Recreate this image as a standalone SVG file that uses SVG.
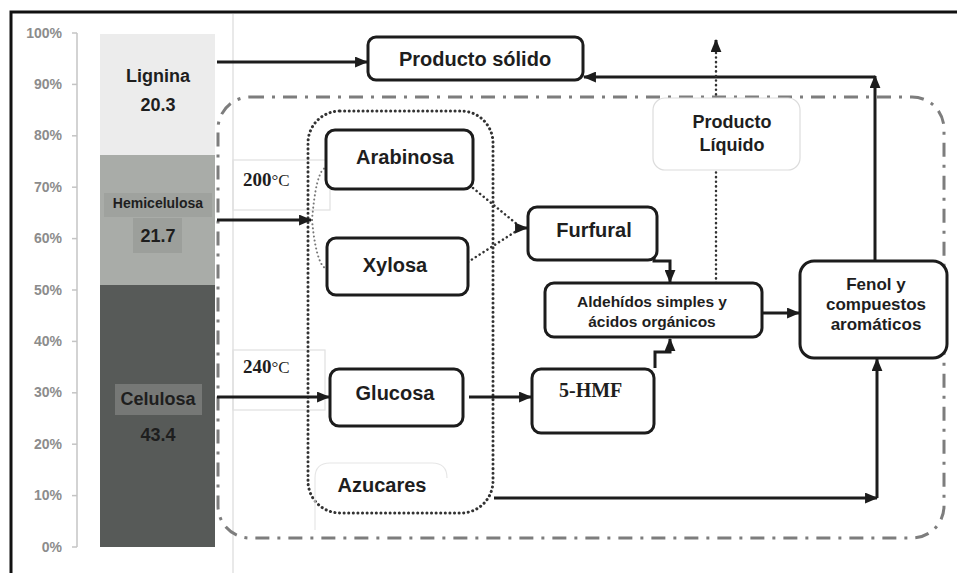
<svg xmlns="http://www.w3.org/2000/svg" width="957" height="573" viewBox="0 0 957 573">
<style>
  text { font-family: "Liberation Sans", Arial, sans-serif; font-weight: bold; fill: #1e1e1e; }
  .ax { font-size: 14px; fill: #8c8c8c; text-anchor: end; }
  .box { fill: #ffffff; stroke: #1c1c1c; stroke-width: 3; }
  .lbl { font-size: 20px; text-anchor: middle; }
  .lbl18 { font-size: 18px; text-anchor: middle; }
  .bar { font-size: 18px; text-anchor: middle; }
  .sm { font-size: 15.5px; text-anchor: middle; }
  .fen { font-size: 17px; text-anchor: middle; }
  .serif { font-family: "Liberation Serif", "Times New Roman", serif; }
  .con { fill: none; stroke: #1c1c1c; stroke-width: 3; }
  .dot { fill: none; stroke: #333; stroke-width: 2.5; stroke-dasharray: 0.1 4.5; stroke-linecap: round; }
  .faint { fill: #ffffff; stroke: #dcdcdc; stroke-width: 1.2; }
</style>
<defs>
  <marker id="ah" viewBox="0 0 12 10" refX="11" refY="5" markerWidth="13" markerHeight="11" orient="auto" markerUnits="userSpaceOnUse">
    <path d="M0,0 L12,5 L0,10 z" fill="#1c1c1c"/>
  </marker>
</defs>
<rect x="0" y="0" width="957" height="573" fill="#ffffff"/>
<!-- frame -->
<path d="M11,573 V12 H957" fill="none" stroke="#111" stroke-width="3"/>
<!-- plot area line -->
<line x1="233" y1="14" x2="233" y2="573" stroke="#e2e2e2" stroke-width="1.5"/>
<!-- y axis -->
<g id="axis">
  <line x1="77" y1="33" x2="77" y2="547" stroke="#c4c4c4" stroke-width="1.5"/>
  <g stroke="#c4c4c4" stroke-width="1.5">
    <line x1="72" y1="33" x2="77" y2="33"/><line x1="72" y1="84.4" x2="77" y2="84.4"/>
    <line x1="72" y1="135.8" x2="77" y2="135.8"/><line x1="72" y1="187.2" x2="77" y2="187.2"/>
    <line x1="72" y1="238.6" x2="77" y2="238.6"/><line x1="72" y1="290" x2="77" y2="290"/>
    <line x1="72" y1="341.4" x2="77" y2="341.4"/><line x1="72" y1="392.8" x2="77" y2="392.8"/>
    <line x1="72" y1="444.2" x2="77" y2="444.2"/><line x1="72" y1="495.6" x2="77" y2="495.6"/>
    <line x1="72" y1="547" x2="77" y2="547"/>
  </g>
  <text class="ax" x="62" y="38">100%</text>
  <text class="ax" x="62" y="89">90%</text>
  <text class="ax" x="62" y="140">80%</text>
  <text class="ax" x="62" y="192">70%</text>
  <text class="ax" x="62" y="243">60%</text>
  <text class="ax" x="62" y="295">50%</text>
  <text class="ax" x="62" y="346">40%</text>
  <text class="ax" x="62" y="397">30%</text>
  <text class="ax" x="62" y="449">20%</text>
  <text class="ax" x="62" y="500">10%</text>
  <text class="ax" x="62" y="552">0%</text>
</g>
<!-- bar -->
<g id="lignina">
  <rect x="100" y="34" width="115" height="121" fill="#ececec"/>
  <text class="bar" x="158" y="82">Lignina</text>
  <text class="bar" x="158" y="111">20.3</text>
</g>
<g id="hemicelulosa">
  <rect x="100" y="155" width="115" height="130" fill="#a9aca8"/>
  <rect x="104" y="193" width="108" height="24" fill="#9fa29e"/>
  <rect x="133" y="218" width="49" height="35" fill="#9c9f9b"/>
  <text x="158" y="208" font-size="14" text-anchor="middle">Hemicelulosa</text>
  <text class="bar" x="158" y="242">21.7</text>
</g>
<g id="celulosa">
  <rect x="100" y="285" width="115" height="262" fill="#575a58"/>
  <rect x="115" y="384" width="87" height="31" fill="#767876"/>
  <text class="bar" x="158" y="405">Celulosa</text>
  <text class="bar" x="158" y="441">43.4</text>
</g>
<!-- temperature label boxes -->
<g id="t200">
  <rect x="233" y="160" width="97" height="50" fill="none" stroke="#e0e0e0" stroke-width="1.2"/>
  <text class="serif" x="243" y="186" font-size="19">200<tspan font-weight="normal" font-size="17">°C</tspan></text>
</g>
<g id="t240">
  <rect x="233" y="350" width="92" height="60" fill="none" stroke="#e0e0e0" stroke-width="1.2"/>
  <text class="serif" x="243" y="373" font-size="19">240<tspan font-weight="normal" font-size="17">°C</tspan></text>
</g>
<!-- reactor dash-dot boundary -->
<rect x="218" y="97" width="726" height="441" rx="32" ry="32" fill="none" stroke="#7d7d7d" stroke-width="3" stroke-dasharray="14 8 3 8"/>
<!-- sugars dotted group -->
<rect x="308" y="111" width="185" height="402" rx="32" ry="32" fill="none" stroke="#333" stroke-width="3" stroke-dasharray="0.1 4.5" stroke-linecap="round"/>
<g id="azucares">
  <path d="M315,530 V478 Q315,463 330,463 H432 Q447,463 447,478" fill="none" stroke="#e6e6e6" stroke-width="1.2"/>
  <text class="lbl" x="382" y="492">Azucares</text>
</g>
<!-- connectors -->
<g id="connectors">
  <line class="con" x1="217" y1="62" x2="367" y2="62" marker-end="url(#ah)"/>
  <line class="con" x1="875" y1="260" x2="875" y2="76" marker-end="url(#ah)"/>
  <line class="con" x1="875" y1="77" x2="584" y2="77" marker-end="url(#ah)"/>
  <line class="con" x1="217" y1="220" x2="311" y2="220" marker-end="url(#ah)"/>
  <path d="M312,220 Q316,172 325,168" fill="none" stroke="#777" stroke-width="2" stroke-dasharray="0.1 4" stroke-linecap="round"/>
  <path d="M312,220 Q316,262 325,268" fill="none" stroke="#777" stroke-width="2" stroke-dasharray="0.1 4" stroke-linecap="round"/>
  <line class="dot" x1="473" y1="188" x2="518" y2="225"/>
  <line class="dot" x1="468" y1="262" x2="518" y2="230"/>
  <line class="con" x1="516" y1="228" x2="527" y2="228" marker-end="url(#ah)"/>
  <path class="con" d="M654,240 V261 H670 V282" marker-end="url(#ah)"/>
  <path class="con" d="M655,368 V352 H670 V339" marker-end="url(#ah)"/>
  <line class="dot" x1="716" y1="283" x2="716" y2="50"/>
  <line class="con" x1="716" y1="50" x2="716" y2="40" marker-end="url(#ah)"/>
  <line class="con" x1="762" y1="313" x2="799" y2="313" marker-end="url(#ah)"/>
  <line class="con" x1="217" y1="397" x2="329" y2="397" marker-end="url(#ah)"/>
  <line class="con" x1="469" y1="397" x2="531" y2="397" marker-end="url(#ah)"/>
  <line class="con" x1="494" y1="498" x2="877" y2="498" marker-end="url(#ah)"/>
  <line class="con" x1="877" y1="498" x2="877" y2="359" marker-end="url(#ah)"/>
</g>
<!-- nodes -->
<g id="producto-solido">
  <rect class="box" x="368" y="37" width="215" height="43" rx="8"/>
  <text class="lbl" x="475" y="66">Producto sólido</text>
</g>
<g id="producto-liquido">
  <rect class="faint" x="653" y="98" width="147" height="72" rx="12"/>
  <text class="lbl18" x="732" y="128">Producto</text>
  <text class="lbl18" x="732" y="151">Líquido</text>
</g>
<g id="arabinosa">
  <rect class="box" x="326" y="130" width="147" height="59" rx="9"/>
  <text class="lbl" x="405" y="164">Arabinosa</text>
</g>
<g id="xylosa">
  <rect class="box" x="327" y="238" width="141" height="57" rx="9"/>
  <text class="lbl" x="395" y="272">Xylosa</text>
</g>
<g id="glucosa">
  <rect class="box" x="330" y="369" width="133" height="57" rx="9"/>
  <text class="lbl" x="395" y="400">Glucosa</text>
</g>
<g id="furfural">
  <rect class="box" x="528" y="207" width="129" height="53" rx="9"/>
  <text class="lbl" x="594" y="237">Furfural</text>
</g>
<g id="aldehidos">
  <rect class="box" x="545" y="283" width="217" height="54" rx="9"/>
  <text class="sm" x="652" y="307">Aldehídos simples y</text>
  <text class="sm" x="652" y="327">ácidos orgánicos</text>
</g>
<g id="hmf">
  <rect class="box" x="532" y="369" width="122" height="64" rx="9"/>
  <text class="serif" x="559" y="397" font-size="20">5-HMF</text>
</g>
<g id="fenol">
  <rect class="box" x="800" y="261" width="147" height="97" rx="14"/>
  <text class="fen" x="876" y="290">Fenol y</text>
  <text class="fen" x="876" y="310">compuestos</text>
  <text class="fen" x="876" y="330">aromáticos</text>
</g>
</svg>
